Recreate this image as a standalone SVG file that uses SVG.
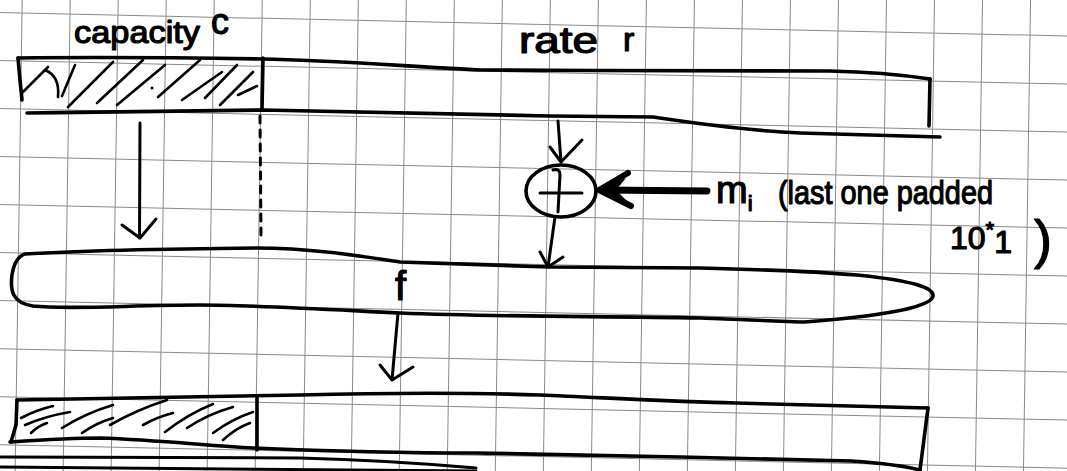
<svg xmlns="http://www.w3.org/2000/svg" width="1067" height="471" viewBox="0 0 1067 471">
<defs>
<style>
.grid line{stroke:#8a8a8a;stroke-width:1}
.ink{fill:none;stroke:#000;stroke-width:3.6;stroke-linecap:round;stroke-linejoin:round}
.thin{fill:none;stroke:#000;stroke-width:3;stroke-linecap:round;stroke-linejoin:round}
.hatch{fill:none;stroke:#000;stroke-width:2.6;stroke-linecap:round}
.dot{fill:none;stroke:#000;stroke-width:3;stroke-dasharray:7 7;stroke-linecap:round}
.hand{font-family:"Liberation Sans","DejaVu Sans",sans-serif;fill:#000;stroke:#000;stroke-width:1.2;stroke-linejoin:round}
</style>
</defs>
<rect width="1067" height="471" fill="#fff"/>
<g class="grid" transform="matrix(1,0.022,-0.015,1,22,13)">
<line x1="-48" y1="-60" x2="-48" y2="520"/><line x1="0" y1="-60" x2="0" y2="520"/><line x1="48" y1="-60" x2="48" y2="520"/><line x1="96" y1="-60" x2="96" y2="520"/><line x1="144" y1="-60" x2="144" y2="520"/><line x1="192" y1="-60" x2="192" y2="520"/><line x1="240" y1="-60" x2="240" y2="520"/><line x1="288" y1="-60" x2="288" y2="520"/><line x1="336" y1="-60" x2="336" y2="520"/><line x1="384" y1="-60" x2="384" y2="520"/><line x1="432" y1="-60" x2="432" y2="520"/><line x1="480" y1="-60" x2="480" y2="520"/><line x1="528" y1="-60" x2="528" y2="520"/><line x1="576" y1="-60" x2="576" y2="520"/><line x1="624" y1="-60" x2="624" y2="520"/><line x1="672" y1="-60" x2="672" y2="520"/><line x1="720" y1="-60" x2="720" y2="520"/><line x1="768" y1="-60" x2="768" y2="520"/><line x1="816" y1="-60" x2="816" y2="520"/><line x1="864" y1="-60" x2="864" y2="520"/><line x1="912" y1="-60" x2="912" y2="520"/><line x1="960" y1="-60" x2="960" y2="520"/><line x1="1008" y1="-60" x2="1008" y2="520"/><line x1="1056" y1="-60" x2="1056" y2="520"/>
<line x1="-60" y1="-48" x2="1100" y2="-48"/><line x1="-60" y1="0" x2="1100" y2="0"/><line x1="-60" y1="48" x2="1100" y2="48"/><line x1="-60" y1="96" x2="1100" y2="96"/><line x1="-60" y1="144" x2="1100" y2="144"/><line x1="-60" y1="192" x2="1100" y2="192"/><line x1="-60" y1="240" x2="1100" y2="240"/><line x1="-60" y1="288" x2="1100" y2="288"/><line x1="-60" y1="336" x2="1100" y2="336"/><line x1="-60" y1="384" x2="1100" y2="384"/><line x1="-60" y1="432" x2="1100" y2="432"/><line x1="-60" y1="480" x2="1100" y2="480"/>
</g>

<g id="labels">
<text class="hand" x="74" y="43" font-size="32" textLength="126" lengthAdjust="spacingAndGlyphs">capacity</text>
<text class="hand" x="211" y="34" font-size="36">c</text>
<text class="hand" x="519" y="53" font-size="36" textLength="79" lengthAdjust="spacingAndGlyphs">rate</text>
<text class="hand" x="623" y="51" font-size="34">r</text>
</g>

<g id="top-bar">
<path class="ink" d="M18,58 C100,57 200,58 262,59 C330,60 400,66 480,70 C600,71 750,70 830,71 C880,72 910,76 930,79"/>
<path class="ink" d="M27,113 C120,112 220,110 263,110 C380,113 480,115 550,116 L653,117 C700,124 750,131 800,133 C870,135 910,136 940,137"/>
<path class="ink" d="M18,58 L20,80 L22,100"/>
<path class="ink" d="M263,58 L262,110"/>
<path class="ink" d="M930,79 L929,126"/>
<g class="hatch">
<path d="M23,92 L48,67"/>
<path d="M45,70 Q60,76 58,97"/>
<path d="M62,96 L75,65"/>
<path d="M68,107 L113,62"/>
<path d="M97,103 L143,60"/>
<path d="M117,105 L165,65"/>
<path d="M158,97 L200,60"/>
<path d="M182,100 L222,72"/>
<path d="M205,98 L237,65"/>
<path d="M220,105 L253,72"/>
<path d="M238,95 L257,86"/>
</g>
<circle cx="152" cy="88" r="1.5" fill="#000"/>
</g>

<g id="adder">
<ellipse class="ink" cx="561" cy="191" rx="35" ry="26"/>
<path class="thin" d="M540,193 L582,193"/>
<path class="thin" d="M553,170 Q560,168 560,175 L558,212"/>
</g>

<g id="f-box">
<path class="ink" d="M25,254 C60,252 150,249 257,248 C310,248 360,256 400,262 L550,267 L700,268 C780,270 820,272 857,275 C915,281 934,288 933,296 C932,305 900,312 857,317 C830,320 810,322 800,322 L700,318 C600,316 500,317 400,313 C300,308 250,305 200,305 C130,305 70,310 33,306 C12,303 10,290 12,275 C14,262 18,256 25,254 Z"/>
<text class="hand" x="395" y="300" font-size="40">f</text>
</g>

<g id="bottom-bar">
<path class="ink" d="M17,400 C100,398 200,396 300,395 C380,393 450,392 540,395 C610,398 680,402 735,403 L928,408"/>
<path class="ink" d="M10,442 C40,440 70,438 100,438 C160,440 210,446 253,448 C350,452 420,453 476,453 C560,455 620,456 680,457 C760,459 820,460 851,461 C880,463 905,466 920,470"/>
<path class="ink" d="M17,400 L16,425 L11,442"/>
<path class="ink" d="M257,398 L257,450"/>
<path class="ink" d="M928,408 L920,470"/>
<g class="hatch">
<path d="M21,418 Q36,410 53,406"/>
<path d="M25,425 Q46,416 70,412"/>
<path d="M31,433 Q38,426 47,423"/>
<path d="M62,428 Q86,413 113,405"/>
<path d="M82,433 Q96,423 113,418"/>
<path d="M110,425 Q136,410 167,400"/>
<path d="M143,425 Q157,417 173,413"/>
<path d="M165,432 Q188,414 213,404"/>
<path d="M187,428 Q208,414 233,407"/>
<path d="M213,433 Q232,419 253,412"/>
<path d="M223,440 Q236,428 250,423"/>
</g>
</g>

<g id="page-edge">
<path class="thin" d="M0,457 L300,458 C380,460 430,464 476,468"/>
<path class="thin" d="M0,467 L476,471"/>
</g>

<g id="connectors">
<path class="dot" d="M260,116 L261,236"/>
<path class="thin" d="M140,123 L139.5,238 M122,225 L140,238 L156,219"/>
<path class="thin" d="M558,121 L561,162 M550,147 L561,162 L582,140"/>
<path class="thin" d="M555,217 L548,267 M540,252 L548,267 L563,257"/>
<path class="thin" d="M398,313 L392,380 M380,365 L392,380 L413,367"/>
<path d="M707,191 L603,190" fill="none" stroke="#000" stroke-width="7" stroke-linecap="round"/>
<path d="M628,173 L599,190 L631,206" fill="none" stroke="#000" stroke-width="6" stroke-linecap="round" stroke-linejoin="round"/>
<polygon points="599,190 626,178 616,190 628,202" fill="#000"/>
</g>

<g id="mi-label">
<text class="hand" x="716" y="203" font-size="38">m<tspan font-size="22" dy="8">i</tspan></text>
<text class="hand" x="778" y="204" font-size="34" textLength="215" lengthAdjust="spacingAndGlyphs">(last one padded</text>
<text class="hand" x="950" y="249" font-size="32">10<tspan font-size="22" dy="-12">*</tspan><tspan dy="16">1</tspan></text>
<text class="hand" x="1034" y="258" font-size="54">)</text>
</g>
</svg>
